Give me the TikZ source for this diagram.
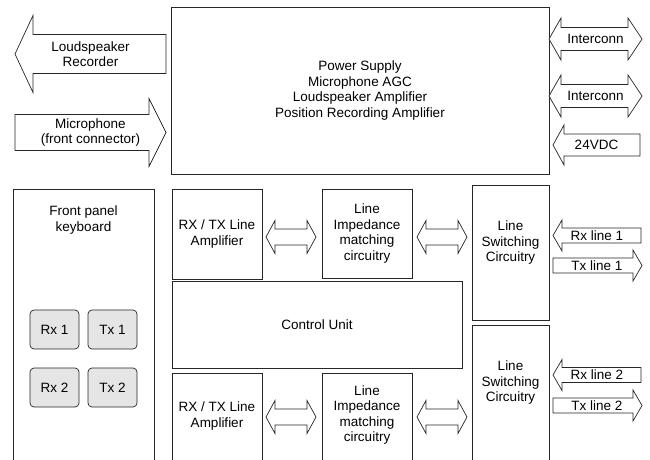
\documentclass[tikz,border=0pt]{standalone}
\usepackage{fontspec}
\setmainfont{Liberation Sans}
\usetikzlibrary{positioning}

% block arrows: tip x, head base x, tail x, centre y, half shaft, half head
\newcommand{\leftblk}[6]{%
  \draw[blk] (#1,#4) -- (#2,#4-#6) -- (#2,#4-#5) -- (#3,#4-#5)
    -- (#3,#4+#5) -- (#2,#4+#5) -- (#2,#4+#6) -- cycle;}
% tail x, head base x, tip x, centre y, half shaft, half head
\newcommand{\rightblk}[6]{%
  \draw[blk] (#1,#4-#5) -- (#2,#4-#5) -- (#2,#4-#6) -- (#3,#4)
    -- (#2,#4+#6) -- (#2,#4+#5) -- (#1,#4+#5) -- cycle;}
% left tip, left base, right base, right tip, centre y, half shaft, half head
\newcommand{\dblblk}[7]{%
  \draw[blk] (#1,#5) -- (#2,#5-#7) -- (#2,#5-#6) -- (#3,#5-#6) -- (#3,#5-#7)
    -- (#4,#5) -- (#3,#5+#7) -- (#3,#5+#6) -- (#2,#5+#6) -- (#2,#5+#7) -- cycle;}

\tikzset{
  blk/.style={draw=black!85, line width=0.7pt, fill=white},
  box/.style={draw=black!85, line width=0.7pt, anchor=north west,
    inner sep=0pt, outer sep=0pt, align=center,
    font=\fontsize{13.5}{15.5}\selectfont},
  lbl/.style={inner sep=0pt, align=center, font=\fontsize{13.5}{15.5}\selectfont},
  key/.style={draw=black!85, line width=0.7pt, fill=black!10,
    rounded corners=4pt, minimum width=49pt, minimum height=39pt,
    inner sep=0pt, outer sep=0pt, font=\fontsize{13.5}{15.5}\selectfont}
}

\begin{document}
\begin{tikzpicture}[x=1pt,y=-1pt]
  \useasboundingbox (0,0) rectangle (650,460);

  % top block
  \node[box, minimum width=378pt, minimum height=167pt] (ps) at (171,7)
    {Power Supply\\Microphone AGC\\Loudspeaker Amplifier\\Position Recording Amplifier};

  \leftblk{15}{33}{166}{54}{19.5}{38.5}
  \node[lbl] (spk) at (90.5,54) {Loudspeaker\\Recorder};
  \rightblk{15}{149}{166}{132.5}{18}{34}
  \node[lbl] (mic) at (90.5,132.5) {Microphone\\(front connector)};

  \dblblk{549}{561}{628}{642}{39}{11.5}{21}
  \node[lbl] (ic1) at (595.5,39) {Interconn};
  \dblblk{549}{561}{628}{642}{96}{11.5}{21}
  \node[lbl] (ic2) at (595.5,96) {Interconn};
  \leftblk{553}{564}{640}{145}{11}{20}
  \node[lbl] (vdc) at (596.5,145) {24VDC};

  % front panel
  \node[box, minimum width=141pt, minimum height=281pt] (kbd) at (13,189) {};
  \node[lbl] (kbdtxt) at (83.5,220) {Front panel\\keyboard};
  \node[key, anchor=north west] (rx1) at (30,310) {Rx 1};
  \node[key, right=9pt of rx1] (tx1) {Tx 1};
  \node[key, below=19pt of rx1] (rx2) {Rx 2};
  \node[key, right=9pt of rx2] (tx2) {Tx 2};

  % line 1
  \node[box, minimum width=90pt, minimum height=90pt] (amp1) at (172,189)
    {RX / TX Line\\Amplifier};
  \node[box, minimum width=90pt, minimum height=89pt] (imp1) at (322,189)
    {Line\\Impedance\\matching\\circuitry};
  \node[box, minimum width=77pt, minimum height=135pt] (sw1) at (472,185) {};
  \node[lbl] (sw1txt) at (510.5,243) {Line\\Switching\\Circuitry};
  \dblblk{266}{275}{307}{316}{237}{8}{16.5}
  \dblblk{417}{426}{458}{467}{237}{8}{16.5}

  \leftblk{553}{562}{641}{235.5}{7.5}{15.5}
  \node[lbl] (rxl1) at (597,235.5) {Rx line 1};
  \rightblk{553}{633}{642}{265.5}{7.5}{15.5}
  \node[lbl] (txl1) at (597,265.5) {Tx line 1};

  % control
  \node[box, minimum width=290pt, minimum height=87pt] (ctrl) at (172,281)
    {Control Unit};

  % line 2
  \node[box, minimum width=90pt, minimum height=97pt] (amp2) at (172,373) {};
  \node[lbl] (amp2txt) at (217,416) {RX / TX Line\\Amplifier};
  \node[box, minimum width=90pt, minimum height=97pt] (imp2) at (322,373) {};
  \node[lbl] (imp2txt) at (367,415) {Line\\Impedance\\matching\\circuitry};
  \node[box, minimum width=77pt, minimum height=145pt] (sw2) at (472,325) {};
  \node[lbl] (sw2txt) at (510.5,383) {Line\\Switching\\Circuitry};
  \dblblk{266}{275}{307}{316}{417}{8}{16.5}
  \dblblk{417}{426}{458}{467}{417}{8}{16.5}

  \leftblk{553}{562}{641}{375}{7.5}{15.5}
  \node[lbl] (rxl2) at (597,375) {Rx line 2};
  \rightblk{553}{633}{642}{405.5}{7.5}{15.5}
  \node[lbl] (txl2) at (597,405.5) {Tx line 2};
\end{tikzpicture}
\end{document}
